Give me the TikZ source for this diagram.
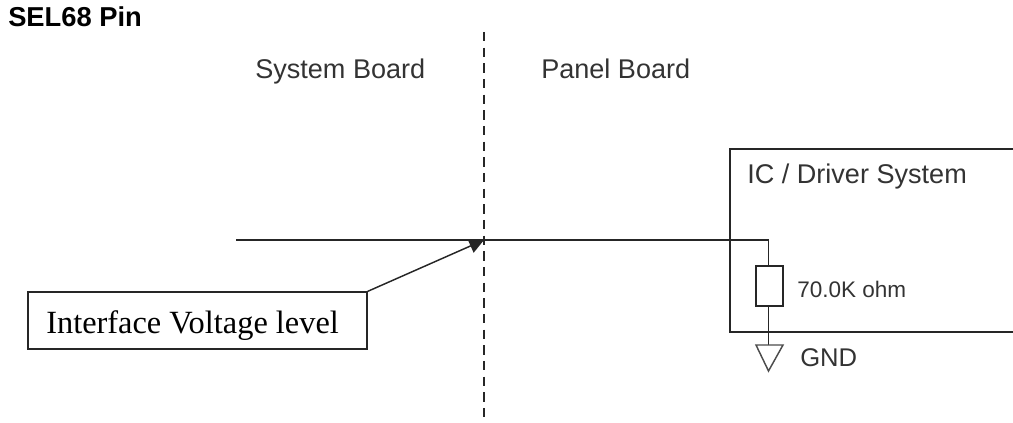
\documentclass[tikz,border=0pt]{standalone}
\usepackage{fontspec}
\setmainfont{Liberation Sans}
\newfontfamily\serifbox{Liberation Serif}
\usetikzlibrary{arrows.meta}
\tikzset{
    wire/.style={
        line width=1.1pt,
        black!85,
    },
    label/.style={
        inner sep=0,
        anchor=base west,
        text=black!80,
        font=\fontsize{20.3}{24}\selectfont,
    },
    small label/.style={
        label,
        font=\fontsize{16.9}{20}\selectfont,
    },
    res/.style={
        wire,
        draw,
        inner sep=0,
        minimum width=20pt,
        minimum height=30pt,
    },
    note/.style={
        wire,
        draw,
        inner sep=0,
        minimum width=254pt,
        minimum height=42.5pt,
    },
}

\begin{document}
\begin{tikzpicture}[x=0.75pt,y=-0.75pt]
            \useasboundingbox (0, 0) rectangle (1013, 423) ;

            \node[label,text=black,font=\fontsize{20.5}{24}\selectfont\bfseries] at (8, 27) (title) {SEL68 Pin} ;
            \node[label] at (255, 79) (sysboard) {System Board} ;
            \node[label] at (541, 79) (panelboard) {Panel Board} ;
            \node[label] at (747, 184) (driver) {IC / Driver System} ;
            \node[small label] at (797, 298) (ohm) {70.0K ohm} ;
            \node[label,font=\fontsize{19.2}{23}\selectfont] at (800, 367) (gndtext) {GND} ;

            \coordinate (top) at (484, 32) ;
            \coordinate (bottom) at (484, 423) ;
            \coordinate (wirestart) at (236, 240) ;
            \coordinate (wirecross) at (484, 240) ;
            \coordinate (corner) at (768.5, 240) ;
            \coordinate (tr) at (1013, 149) ;
            \coordinate (tl) at (730, 149) ;
            \coordinate (bl) at (730, 332) ;
            \coordinate (br) at (1013, 332) ;
            \coordinate (gnd) at (768.5, 345) ;
            \coordinate (gndl) at (756, 345) ;
            \coordinate (gndr) at (783, 345) ;
            \coordinate (gndtip) at (768.5, 371) ;

            \node[res] at (769.5, 286) (R) {} ;
            \node[note] at (197.5, 320.5) (level) {} ;
            \node[label,text=black,font=\serifbox\fontsize{24.3}{28}\selectfont] at (46, 334) (leveltext) {Interface Voltage level} ;

            \draw[wire,dash pattern=on 7pt off 4.75pt] (top) -- (bottom) ;
            \draw[wire] (wirestart) -- (wirecross) -- (corner) -- (corner |- R.north) ;
            \draw[wire] (tr) -- (tl) -- (bl) -- (br) ;
            \draw[wire] (R.south -| gnd) -- (gnd) ;
            \draw[wire,black!70] (gndl) -- (gndr) -- (gndtip) -- cycle ;
            \draw[wire,-{Stealth[length=11pt,width=11pt,inset=0pt]}] (level.north east) -- (wirecross) ;
        \end{tikzpicture}
\end{document}
